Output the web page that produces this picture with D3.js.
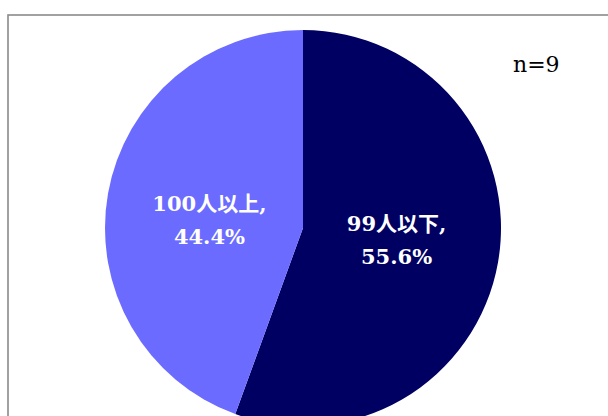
<!DOCTYPE html>
<html>
<head>
<meta charset="utf-8">
<script src="https://cdn.jsdelivr.net/npm/d3@7"></script>
<style>
  html, body { margin: 0; padding: 0; background: #fff; }
  svg { display: block; }
</style>
</head>
<body>
<svg id="chart" width="608" height="416"></svg>
<script>
// Company size split (share of respondents)
const categories = ["99人以下", "100人以上"];
const counts = [5, 4];
const percentLabels = ["55.6%", "44.4%"];
const sampleNote = "n=9";
const colors = ["#000062", "#6b6bff"];

const svg = d3.select("#chart");
const W = 608, H = 416;

// chart frame
svg.append("rect")
  .attr("x", 8).attr("y", 15)
  .attr("width", W + 20).attr("height", H + 20)
  .attr("fill", "#fff")
  .attr("stroke", "#8a8a8a")
  .attr("stroke-width", 1.6);

const cx = 303, cy = 228, r = 198;
const g = svg.append("g").attr("transform", `translate(${cx},${cy})`);

const pie = d3.pie().sort(null).value(d => d)(counts);
const arc = d3.arc().innerRadius(0).outerRadius(r);
const labelArc = d3.arc().innerRadius(95).outerRadius(95);

g.selectAll("path.slice")
  .data(pie)
  .join("path")
  .attr("class", "slice")
  .attr("d", arc)
  .attr("fill", (d, i) => colors[i]);

const labels = g.selectAll("text.lbl")
  .data(pie)
  .join("text")
  .attr("class", "lbl")
  .attr("transform", d => {
    const [x, y] = labelArc.centroid(d);
    return `translate(${x},${y * 0.6})`;
  })
  .attr("text-anchor", "middle")
  .attr("fill", "#fff")
  .style("font-family", "'DejaVu Serif', 'Noto Sans CJK JP', serif")
  .style("font-weight", "bold")
  .style("font-size", "21px");

labels.append("tspan")
  .attr("x", 0).attr("y", -7)
  .text((d, i) => categories[i] + ",");
labels.append("tspan")
  .attr("x", 0).attr("y", 26)
  .text((d, i) => percentLabels[i]);

svg.append("text")
  .attr("x", 513).attr("y", 72)
  .attr("fill", "#000")
  .style("font-family", "'DejaVu Serif', serif")
  .style("font-size", "22px")
  .text(sampleNote);
</script>
</body>
</html>
